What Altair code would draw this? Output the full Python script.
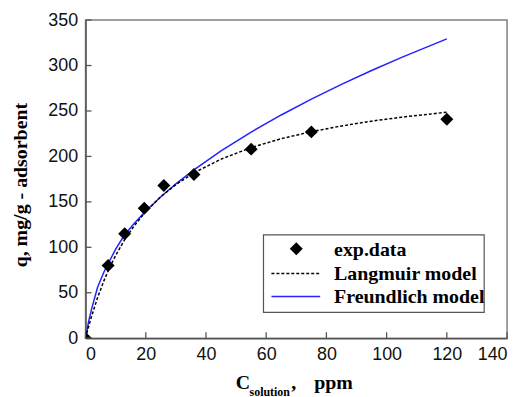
import altair as alt
import pandas as pd

# Experimental data
exp_c = [0, 7.5, 13, 19.5, 26, 36, 55, 75, 120]
exp_q = [0, 80, 115, 143, 168, 180, 208, 227, 241]

# Model curves
curve_c = [0, 1, 2, 4, 6, 8, 10, 13, 16, 20, 25, 30, 36, 45, 55, 65, 75, 85, 95, 105, 120]
langmuir_q = [0, 12.6, 24.2, 44.7, 62.4, 77.7, 91.1, 108.4, 123.0, 139.2, 155.7, 169.0,
              181.9, 197.0, 209.7, 219.5, 227.2, 233.5, 238.8, 243.2, 248.6]
freund_q = [0, 18, 32, 56, 72, 85, 98, 113.8, 125.7, 139.8, 155.6, 169.8,
            185.2, 206.1, 226.8, 245.6, 263.0, 279.3, 294.5, 308.9, 329.3]

x_ticks = [0, 20, 40, 60, 80, 100, 120, 140]
y_ticks = [0, 50, 100, 150, 200, 250, 300, 350]

W, H = 424, 320
SERIF = "Liberation Serif"
SANS = "Liberation Sans"
AXC = "#555555"

pts = pd.DataFrame({"c": exp_c, "q": exp_q})
lang = pd.DataFrame({"c": curve_c, "q": langmuir_q})
fr = pd.DataFrame({"c": curve_c, "q": freund_q})
xt = pd.DataFrame({"v": x_ticks})
yt = pd.DataFrame({"v": y_ticks})
one = pd.DataFrame({"a": [0]})

xs = alt.Scale(domain=[0, 140], nice=False)
ys = alt.Scale(domain=[0, 350], nice=False)

xax = alt.Axis(values=x_ticks, title=None, grid=False, ticks=False, labelFont=SANS,
               labelFontSize=18, labelColor="#111", labelPadding=7,
               domainColor=AXC, domainWidth=1.5)
yax = alt.Axis(values=y_ticks, title=None, grid=False, ticks=False, labelFont=SANS,
               labelFontSize=18, labelColor="#111", labelPadding=8,
               domainColor=AXC, domainWidth=1.5)

freund_line = alt.Chart(fr).mark_line(color="#2222ff", strokeWidth=1.5).encode(
    x=alt.X("c:Q", scale=xs, axis=xax),
    y=alt.Y("q:Q", scale=ys, axis=yax),
)
lang_line = alt.Chart(lang).mark_line(color="black", strokeWidth=1.5, strokeDash=[3, 2]).encode(
    x=alt.X("c:Q", scale=xs), y=alt.Y("q:Q", scale=ys)
)
points = alt.Chart(pts).mark_point(shape="diamond", filled=True, color="black", size=170,
                                   opacity=1, clip=True).encode(
    x=alt.X("c:Q", scale=xs), y=alt.Y("q:Q", scale=ys)
)

xtick = alt.Chart(xt).mark_rule(color=AXC, strokeWidth=1.3).encode(
    x=alt.X("v:Q", scale=xs), y=alt.value(H), y2=alt.value(H - 6)
)
ytick = alt.Chart(yt).mark_rule(color=AXC, strokeWidth=1.3).encode(
    y=alt.Y("v:Q", scale=ys), x=alt.value(0), x2=alt.value(6)
)

# Legend
box = alt.Chart(one).mark_rect(fill="white", stroke="#555555", strokeWidth=1.2).encode(
    x=alt.value(179), x2=alt.value(401), y=alt.value(216), y2=alt.value(294)
)
leg_pt = alt.Chart(one).mark_point(shape="diamond", filled=True, color="black", size=170, opacity=1).encode(
    x=alt.value(212), y=alt.value(230)
)
leg_dash = alt.Chart(one).mark_rule(color="black", strokeWidth=1.5, strokeDash=[3, 2]).encode(
    x=alt.value(187), x2=alt.value(236), y=alt.value(255)
)
leg_blue = alt.Chart(one).mark_rule(color="#2222ff", strokeWidth=1.5).encode(
    x=alt.value(187), x2=alt.value(236), y=alt.value(278)
)


def txt(s, x, y, size=18, align="left", baseline="middle", angle=0):
    kw = dict(text=s, font=SERIF, fontWeight="bold", fontSize=size, align=align,
              baseline=baseline, color="black")
    if angle:
        kw["angle"] = angle
    return alt.Chart(one).mark_text(**kw).encode(x=alt.value(x), y=alt.value(y))


leg_t1 = txt("exp.data", 250, 231, size=20)
leg_t2 = txt("Langmuir model", 250, 255, size=20)
leg_t3 = txt("Freundlich model", 250, 279, size=20)

xt_c = txt("C", 151, 371, size=20, baseline="alphabetic")
xt_sub = txt("solution", 165, 378, size=12, baseline="alphabetic")
xt_comma = txt(",", 207, 371, size=20, baseline="alphabetic")
xt_ppm = txt("ppm", 230, 371, size=20, baseline="alphabetic")
yt_title = txt("q, mg/g - adsorbent", -65, 166, size=20, align="center", angle=270)

chart = alt.layer(
    freund_line, lang_line, points, xtick, ytick,
    box, leg_pt, leg_dash, leg_blue, leg_t1, leg_t2, leg_t3,
    xt_c, xt_sub, xt_comma, xt_ppm, yt_title,
).properties(
    width=W, height=H,
    autosize=alt.AutoSizeParams(type="none"),
    padding={"left": 78, "top": 11, "right": 8, "bottom": 58},
    background="white",
).configure_view(stroke="#808080", strokeWidth=1.5)

chart.save("out.html", embed_options={"renderer": "svg", "actions": False})
